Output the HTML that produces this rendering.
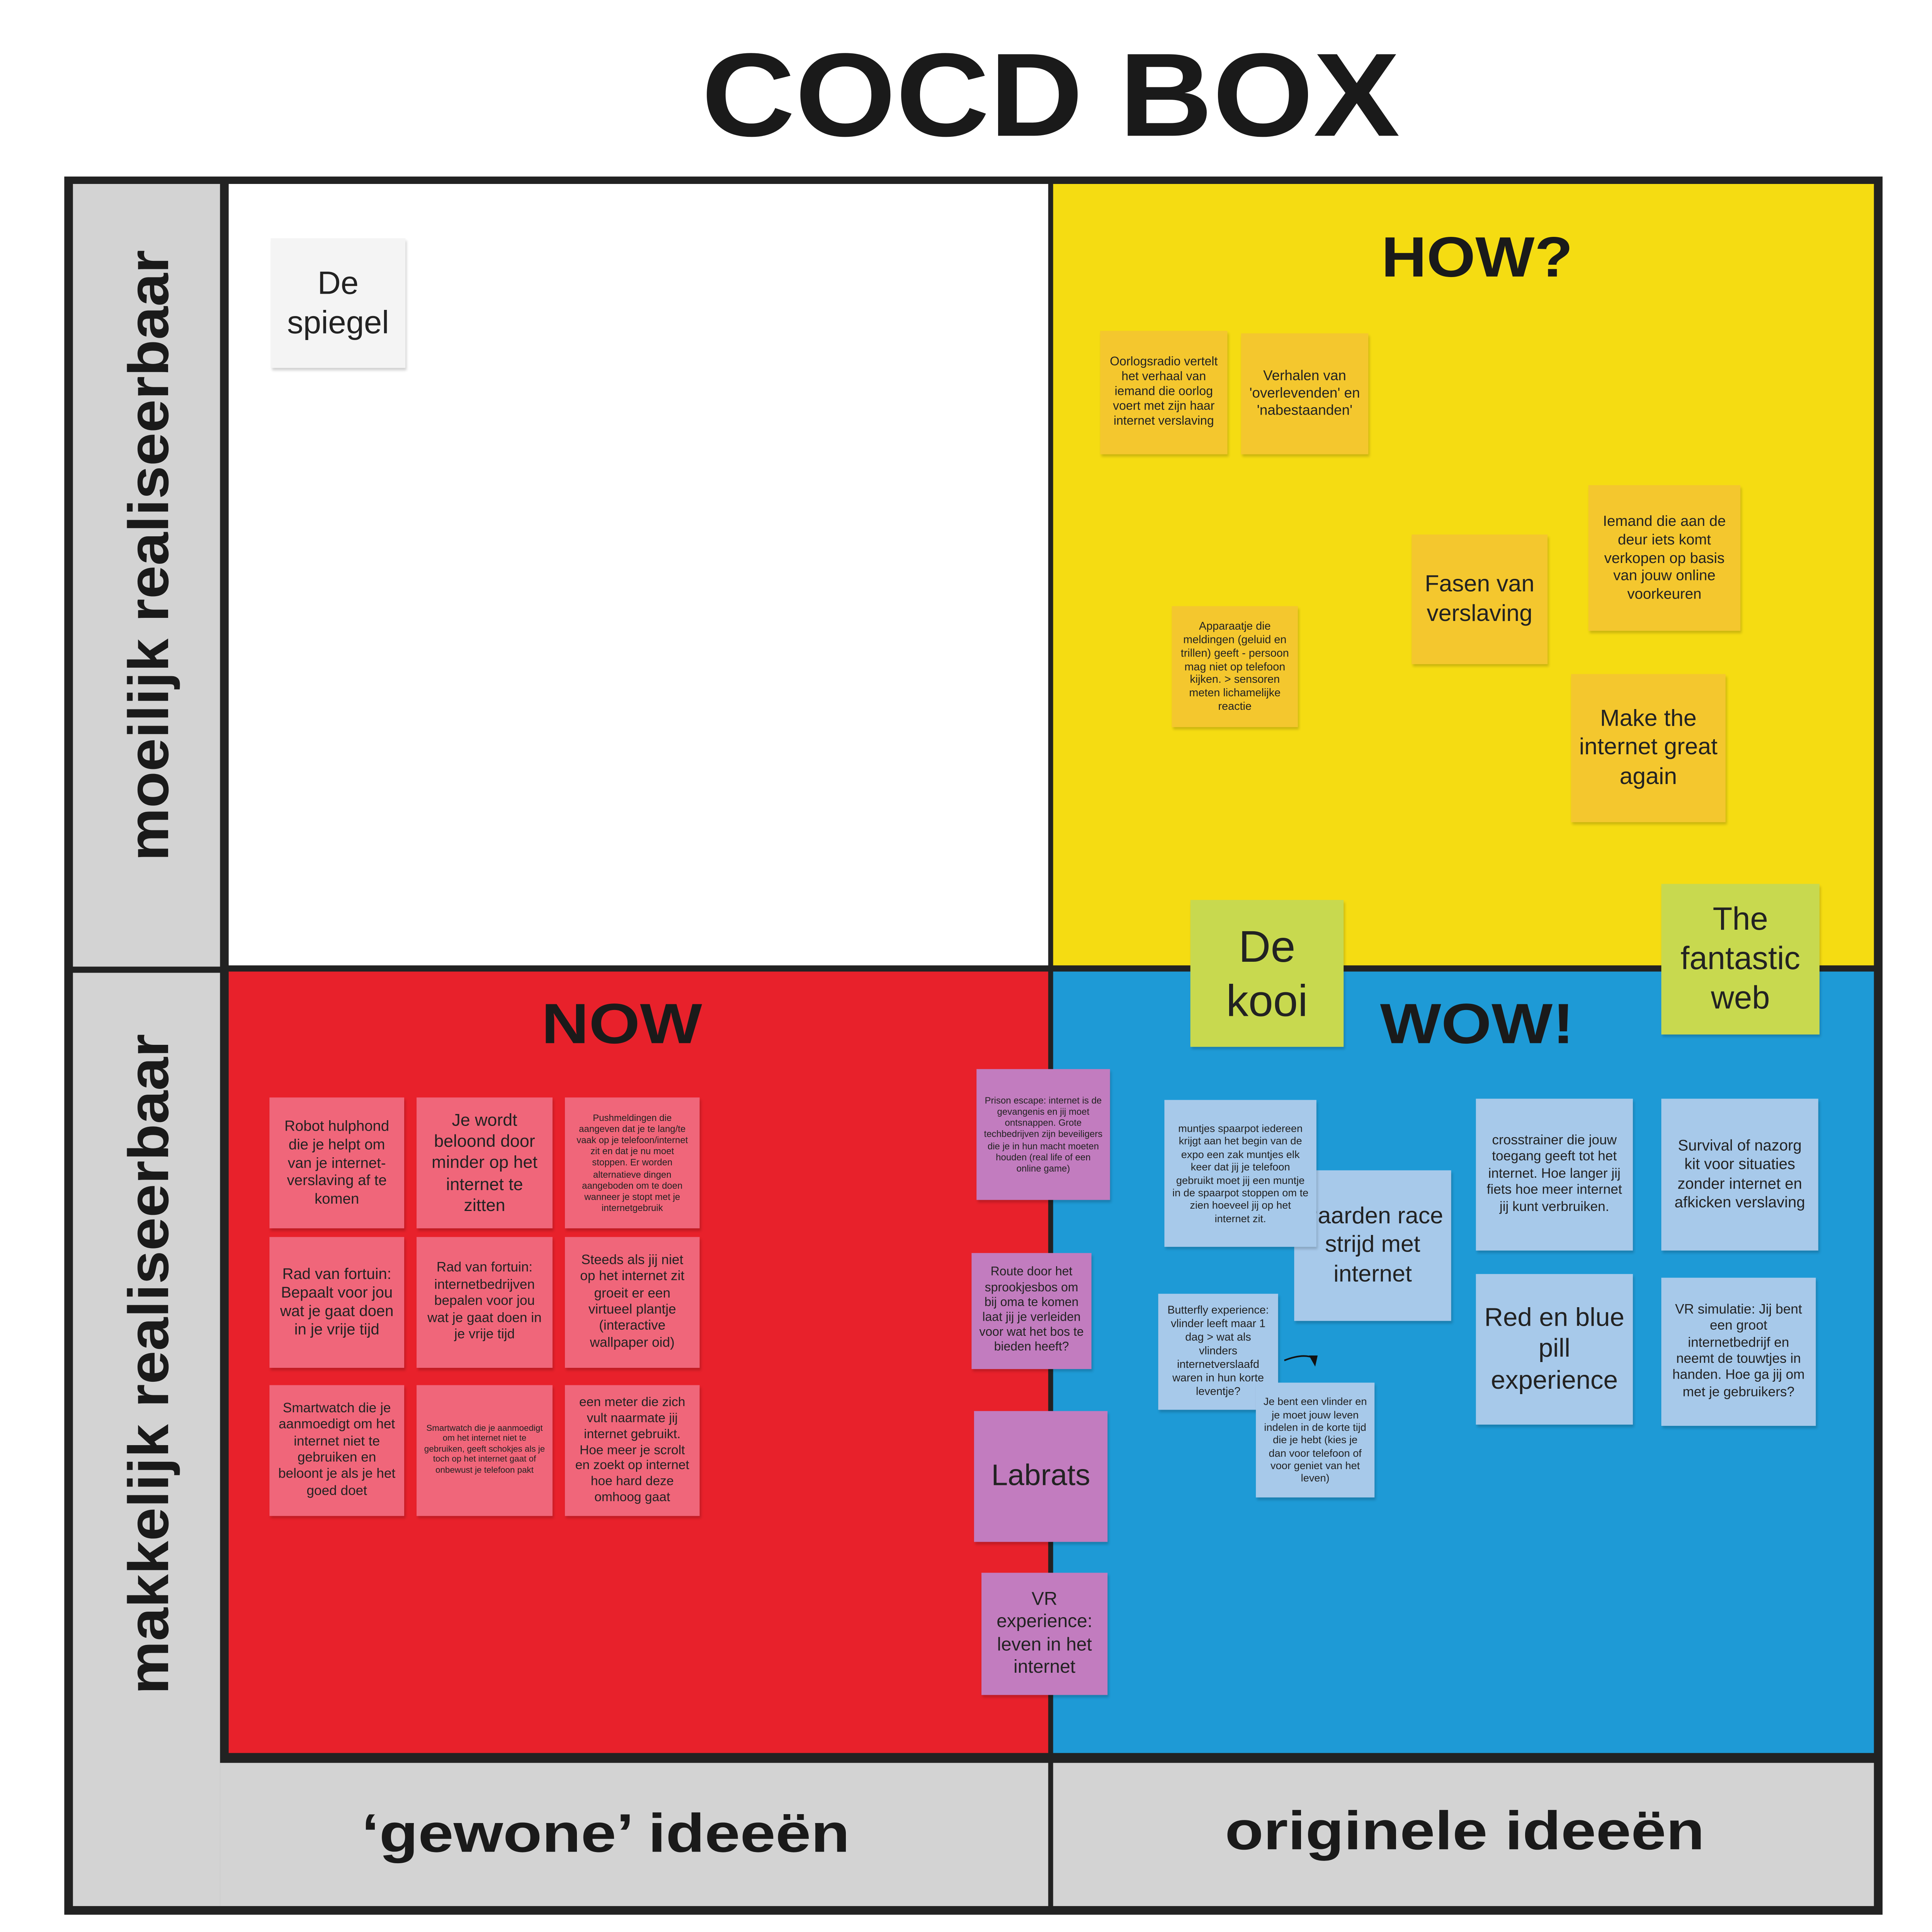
<!DOCTYPE html>
<html><head><meta charset="utf-8"><style>
html,body{margin:0;padding:0;background:#fff;width:100vw;height:100vh;overflow:hidden;}
svg{display:block;width:100vw;height:100vh;}
.n{position:absolute;box-sizing:border-box;display:flex;align-items:center;justify-content:center;text-align:center;line-height:1.22;padding:4px 6px;color:#222;overflow:hidden;box-shadow:1px 2px 2px rgba(0,0,0,.18);font-family:"Liberation Sans",sans-serif;}
.y{background:#f4c72e;}
.r{background:#f0667a;}
.p{background:#c27cbf;}
.b{background:#a7c9ea;}
.g{background:#c8d94f;}
.t{font-family:"Liberation Sans",sans-serif;font-weight:900;fill:#1a1a1a;}
</style></head><body>
<svg viewBox="0 0 1563 1565" preserveAspectRatio="none" xmlns="http://www.w3.org/2000/svg">
<rect x="0" y="0" width="1563" height="1565" fill="#fff"/>
<text class="t" x="850" y="110" text-anchor="middle" font-size="96" textLength="565" lengthAdjust="spacingAndGlyphs">COCD BOX</text>
<rect x="52" y="143" width="1471" height="1408" fill="#222"/>
<rect x="59" y="149" width="119" height="634" fill="#d3d3d3"/>
<rect x="59" y="788" width="119" height="756" fill="#d3d3d3"/>
<rect x="178" y="1428" width="670" height="116" fill="#d3d3d3"/>
<rect x="852" y="1428" width="664" height="116" fill="#d3d3d3"/>
<rect x="185" y="149" width="663" height="633" fill="#fff"/>
<rect x="852" y="149" width="664" height="633" fill="#f5dc12"/>
<rect x="185" y="787" width="663" height="633" fill="#e8212b"/>
<rect x="852" y="787" width="664" height="633" fill="#1e9ad6"/>
<text class="t" transform="translate(136,450) rotate(-90)" text-anchor="middle" font-size="46" textLength="495" lengthAdjust="spacingAndGlyphs">moeilijk realiseerbaar</text>
<text class="t" transform="translate(136,1105) rotate(-90)" text-anchor="middle" font-size="46" textLength="535" lengthAdjust="spacingAndGlyphs">makkelijk realiseerbaar</text>
<text class="t" x="490" y="1500" text-anchor="middle" font-size="44" textLength="395" lengthAdjust="spacingAndGlyphs">‘gewone’ ideeën</text>
<text class="t" x="1185" y="1498" text-anchor="middle" font-size="44" textLength="388" lengthAdjust="spacingAndGlyphs">originele ideeën</text>
<text class="t" x="1195" y="224" text-anchor="middle" font-size="46" textLength="155" lengthAdjust="spacingAndGlyphs">HOW?</text>
<text class="t" x="503" y="845" text-anchor="middle" font-size="46" textLength="130" lengthAdjust="spacingAndGlyphs">NOW</text>
<text class="t" x="1195" y="845" text-anchor="middle" font-size="46" textLength="157" lengthAdjust="spacingAndGlyphs">WOW!</text>
<foreignObject x="0" y="0" width="1563" height="1565">
<div xmlns="http://www.w3.org/1999/xhtml" style="position:relative;width:1563px;height:1565px;">
<div class="n" style="left:219px;top:193px;width:109px;height:105px;background:#f4f4f4;font-size:26px;">De spiegel</div>
<div class="n y" style="left:890px;top:268px;width:103px;height:100px;font-size:10px;">Oorlogsradio vertelt het verhaal van iemand die oorlog voert met zijn haar internet verslaving</div>
<div class="n y" style="left:1004px;top:270px;width:103px;height:98px;font-size:11.5px;">Verhalen van 'overlevenden' en 'nabestaanden'</div>
<div class="n y" style="left:1285px;top:393px;width:123px;height:118px;font-size:12px;">Iemand die aan de deur iets komt verkopen op basis van jouw online voorkeuren</div>
<div class="n y" style="left:1142px;top:433px;width:110px;height:105px;font-size:19px;">Fasen van verslaving</div>
<div class="n y" style="left:948px;top:491px;width:102px;height:98px;font-size:9px;">Apparaatje die meldingen (geluid en trillen) geeft - persoon mag niet op telefoon kijken. &gt; sensoren meten lichamelijke reactie</div>
<div class="n y" style="left:1271px;top:546px;width:125px;height:120px;font-size:19px;">Make the internet great again</div>
<div class="n g" style="left:963px;top:729px;width:124px;height:119px;font-size:36px;">De kooi</div>
<div class="n g" style="left:1344px;top:716px;width:128px;height:122px;font-size:26px;">The fantastic web</div>
<div class="n r" style="left:218px;top:889px;width:109px;height:106px;font-size:12px;">Robot hulphond die je helpt om van je internet-verslaving af te komen</div>
<div class="n r" style="left:337px;top:889px;width:110px;height:106px;font-size:14px;">Je wordt beloond door minder op het internet te zitten</div>
<div class="n r" style="left:457px;top:889px;width:109px;height:106px;font-size:7.5px;">Pushmeldingen die aangeven dat je te lang/te vaak op je telefoon/internet zit en dat je nu moet stoppen. Er worden alternatieve dingen aangeboden om te doen wanneer je stopt met je internetgebruik</div>
<div class="n r" style="left:218px;top:1002px;width:109px;height:106px;font-size:12.5px;">Rad van fortuin: Bepaalt voor jou wat je gaat doen in je vrije tijd</div>
<div class="n r" style="left:337px;top:1002px;width:110px;height:106px;font-size:11px;">Rad van fortuin: internetbedrijven bepalen voor jou wat je gaat doen in je vrije tijd</div>
<div class="n r" style="left:457px;top:1002px;width:109px;height:106px;font-size:11px;">Steeds als jij niet op het internet zit groeit er een virtueel plantje (interactive wallpaper oid)</div>
<div class="n r" style="left:218px;top:1122px;width:109px;height:106px;font-size:11px;">Smartwatch die je aanmoedigt om het internet niet te gebruiken en beloont je als je het goed doet</div>
<div class="n r" style="left:337px;top:1122px;width:110px;height:106px;font-size:7px;">Smartwatch die je aanmoedigt om het internet niet te gebruiken, geeft schokjes als je toch op het internet gaat of onbewust je telefoon pakt</div>
<div class="n r" style="left:457px;top:1122px;width:109px;height:106px;font-size:10.5px;">een meter die zich vult naarmate jij internet gebruikt. Hoe meer je scrolt en zoekt op internet hoe hard deze omhoog gaat</div>
<div class="n p" style="left:790px;top:866px;width:108px;height:106px;font-size:7.5px;">Prison escape: internet is de gevangenis en jij moet ontsnappen. Grote techbedrijven zijn beveiligers die je in hun macht moeten houden (real life of een online game)</div>
<div class="n p" style="left:786px;top:1015px;width:97px;height:94px;font-size:10px;">Route door het sprookjesbos om bij oma te komen laat jij je verleiden voor wat het bos te bieden heeft?</div>
<div class="n p" style="left:788px;top:1143px;width:108px;height:106px;font-size:24px;">Labrats</div>
<div class="n p" style="left:794px;top:1274px;width:102px;height:99px;font-size:15px;">VR experience: leven in het internet</div>
<div class="n b" style="left:1047px;top:948px;width:127px;height:122px;font-size:19px;">Paarden race strijd met internet</div>
<div class="n b" style="left:942px;top:891px;width:123px;height:119px;font-size:8.5px;">muntjes spaarpot iedereen krijgt aan het begin van de expo een zak muntjes elk keer dat jij je telefoon gebruikt moet jij een muntje in de spaarpot stoppen om te zien hoeveel jij op het internet zit.</div>
<div class="n b" style="left:1194px;top:890px;width:127px;height:123px;font-size:11px;">crosstrainer die jouw toegang geeft tot het internet. Hoe langer jij fiets hoe meer internet jij kunt verbruiken.</div>
<div class="n b" style="left:1344px;top:890px;width:127px;height:123px;font-size:12.5px;">Survival of nazorg kit voor situaties zonder internet en afkicken verslaving</div>
<div class="n b" style="left:937px;top:1048px;width:97px;height:94px;font-size:9px;align-items:flex-start;padding-top:8px;">Butterfly experience: vlinder leeft maar 1 dag &gt; wat als vlinders internetverslaafd waren in hun korte leventje?</div>
<div class="n b" style="left:1016px;top:1120px;width:96px;height:93px;font-size:8.5px;">Je bent een vlinder en je moet jouw leven indelen in de korte tijd die je hebt (kies je dan voor telefoon of voor geniet van het leven)</div>
<div class="n b" style="left:1194px;top:1032px;width:127px;height:122px;font-size:21px;">Red en blue pill experience</div>
<div class="n b" style="left:1344px;top:1035px;width:125px;height:120px;font-size:11px;">VR simulatie: Jij bent een groot internetbedrijf en neemt de touwtjes in handen. Hoe ga jij om met je gebruikers?</div>
</div>
</foreignObject>
<path d="M1039 1102 Q1054 1096 1063 1100" stroke="#111" stroke-width="1.3" fill="none"/>
<path d="M1059 1098 L1064 1107 L1066 1098 Z" fill="#111"/>
</svg>
</body></html>
